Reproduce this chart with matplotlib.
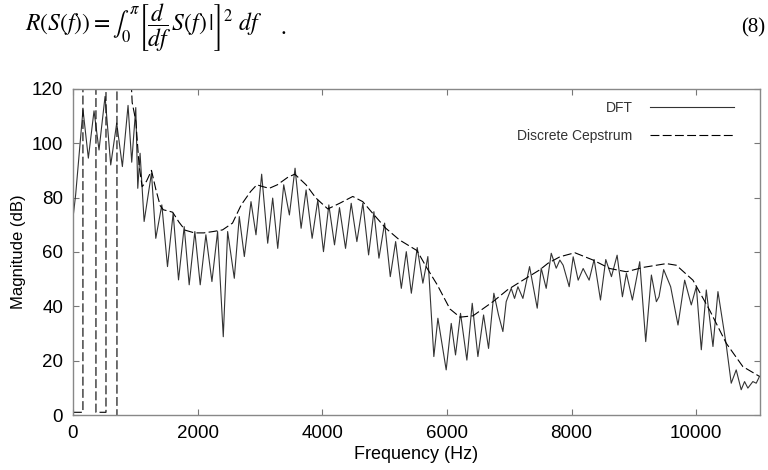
import numpy as np
import matplotlib
matplotlib.use("Agg")
import matplotlib.pyplot as plt

plt.rcParams['font.family'] = ['Liberation Sans', 'DejaVu Sans']
plt.rcParams['mathtext.fontset'] = 'stix'

# DFT magnitude (peaks and troughs)
dft_freq = [0, 43, 161, 247, 338, 418, 515, 606, 702, 793, 884, 943, 1008, 1040, 1077,
            1142, 1260, 1329, 1426, 1517, 1608, 1694, 1785, 1865, 1956, 2042, 2133, 2230,
            2321, 2412, 2482, 2589, 2669, 2750, 2857, 2937, 3028, 3125, 3205, 3286, 3382,
            3473, 3564, 3661, 3741, 3838, 3929, 4020, 4106, 4197, 4277, 4374, 4465, 4556,
            4652, 4744, 4829, 4910, 5001, 5092, 5178, 5269, 5349, 5430, 5524, 5615, 5695,
            5791, 5856, 5989, 6070, 6139, 6219, 6321, 6407, 6498, 6589, 6669, 6754, 6829,
            6899, 6952, 7033, 7086, 7140, 7220, 7327, 7450, 7514, 7594, 7675, 7755, 7813,
            7866, 7963, 8027, 8107, 8187, 8283, 8363, 8465, 8550, 8641, 8732, 8817, 8881,
            8977, 9095, 9191, 9282, 9362, 9404, 9479, 9591, 9709, 9816, 9922, 10003, 10083,
            10163, 10270, 10350, 10483, 10563, 10643, 10723, 10777, 10830, 10910, 10964,
            11017]
dft_mag = [72.4, 81, 112.3, 94.5, 111.9, 97.5, 117.2, 92, 107.4, 91.4, 113.9, 93, 113.1,
           83.4, 96.3, 71.2, 89, 65, 77.3, 54.6, 74.2, 49.7, 69.3, 47.9, 67.5, 47.9, 66.3,
           49.1, 67.5, 28.8, 67.5, 50.3, 73, 58.3, 78.5, 66.3, 88.6, 63.2, 79.8, 61.3, 84.7,
           73.6, 90.8, 68.7, 82.8, 65, 79.1, 60.1, 77.3, 62.6, 76.3, 61.3, 77.9, 63.8, 77.9,
           58.9, 74.8, 57.7, 70.6, 50.9, 63.8, 46.6, 60.1, 44.8, 61.6, 48.5, 58.3, 21.5,
           35.6, 16.6, 33.7, 22.1, 37.4, 20.2, 41.1, 21.5, 36.8, 24.5, 44.8, 36.8, 30.7,
           41.7, 46.6, 42.9, 47.2, 42.9, 54.6, 39.3, 54, 46.6, 59.5, 54, 57,
           55.1, 47.2, 58.2, 49.6, 53.9, 49.6, 57.2, 42.3, 57.2, 50.9, 58.8, 43.5, 52.1,
           42.3, 56.4, 27, 51.5, 41.7, 43.5, 53.5, 47.2, 33.1, 49.6, 40.5, 47.2, 24,
           46, 25.2, 45.4, 25.8, 11.7, 16.6, 9.3, 12.3, 9.9, 12.3, 11.7,
           14.2]

# discrete cepstrum envelope (NaN separates the spurious start)
ceps_freq = [0, 160, 160, 369, 369, 530, 530, 706, 706, np.nan,
             899, 950, 1010, 1060, 1110, 1180, 1260, 1330, 1400, 1450, 1540, 1600, 1700,
             1800, 1950, 2100, 2250, 2400, 2560, 2700, 2850, 2950, 3050, 3150, 3280, 3450,
             3560, 3740, 3900, 4090, 4280, 4490, 4650, 4810, 5020, 5240, 5520, 5682, 5843,
             6050, 6210, 6420, 6740, 6970, 7220, 7490, 7621, 7813, 8053, 8347, 8614, 8881,
             9148, 9522, 9682, 9949, 10216, 10483, 10750, 11017]
ceps_mag = [1, 1, 140, 140, 1, 1, 140, 140, -10, np.nan,
            140, 115, 108, 92, 84, 86, 90, 83, 77, 75.5, 75, 74.6, 71,
            68, 67, 67, 67.5, 68.1, 70.6, 77.3, 82.2, 84.7, 84, 83.4, 84.7, 87.5,
            88.6, 84.7, 79.8, 75.8, 77.9, 80.4, 78.5, 74.2, 68.7, 64.4, 60.5, 54, 48,
            39, 36, 36.5, 41.7, 46, 49.6, 53.4, 55.8, 58.2, 59.7, 57, 53.9, 52.7,
            54.3, 55.7, 55.1, 49.6, 38.6, 26.4, 17.8, 14.2]

fig = plt.figure(figsize=(7.68, 4.70), dpi=100)
ax = fig.add_axes([0.095, 0.117, 0.8946, 0.694])

ax.plot(dft_freq, dft_mag, color='#333333', lw=0.8, label='DFT')
ax.plot(ceps_freq, ceps_mag, color='black', lw=0.8, linestyle=(0, (8, 3)),
        label='Discrete Cepstrum')

ax.set_xlim(0, 11025)
ax.set_ylim(0, 120)
ax.set_xticks([0, 2000, 4000, 6000, 8000, 10000])
ax.set_yticks([0, 20, 40, 60, 80, 100, 120])
ax.tick_params(direction='in', length=4, width=0.8, color='#777777', labelsize=13.5,
               top=True, right=True, pad=7)
for s in ax.spines.values():
    s.set_color('#888888')
    s.set_linewidth(1.0)

ax.set_xlabel('Frequency (Hz)', fontsize=13, labelpad=3)
ax.set_ylabel('Magnitude (dB)', fontsize=12, labelpad=4)

leg = ax.legend(loc='upper right', frameon=False, fontsize=10, markerfirst=False,
                handlelength=6.0, handletextpad=1.3, labelspacing=0.95,
                bbox_to_anchor=(0.98, 1.0))
for t in leg.get_texts():
    t.set_color('#333333')

fig.text(0.032, 0.94,
         r'$R\left(S(f)\right)=\int_0^{\pi}\left[\dfrac{d}{df}\,S(f)\,|\right]^2\ df$',
         fontsize=17, va='center', ha='left')
fig.text(0.365, 0.94, '.', fontsize=17, va='center', ha='left', family='Liberation Serif')
fig.text(0.997, 0.94, '(8)', fontsize=15, va='center', ha='right', family='Liberation Serif')

fig.savefig('out.png', dpi=100)
